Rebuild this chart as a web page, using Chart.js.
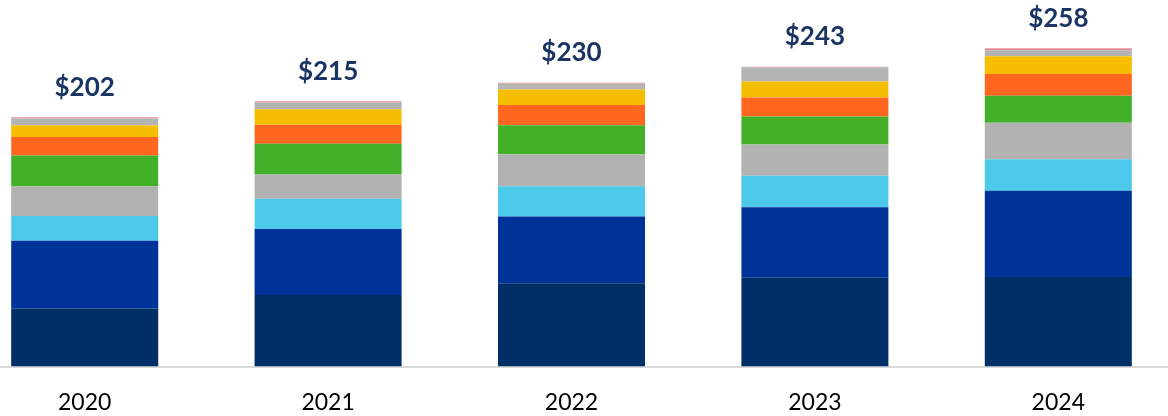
<!DOCTYPE html>
<html>
<head>
<meta charset="utf-8">
<script src="https://cdn.jsdelivr.net/npm/chart.js@4"></script>
<style>
    html, body { margin: 0; padding: 0; background: #fff; overflow: hidden; }
    #wrap { position: absolute; left: -37px; top: 0; width: 1217px; height: 416px; }
</style>
</head>
<body>
<div id="wrap"><canvas id="revenueChart"></canvas></div>
<script>
// Years on the x axis
const years = ['2020', '2021', '2022', '2023', '2024'];

// Stack segments, bottom to top ($)
const navySeg      = [47,   58,   67.5, 72,   72.5];
const blueSeg      = [55,   53.5, 54,   57,   70];
const skySeg       = [20,   24.5, 24.5, 25.5, 25.5];
const graySeg      = [24,   19.5, 26,   25.5, 29.5];
const greenSeg     = [25,   25,   23.5, 22.5, 22];
const orangeSeg    = [15,   15.5, 16.5, 15.5, 17.5];
const yellowSeg    = [9.5,  12.5, 12.5, 13,   14.5];
const lightGraySeg = [5.5,  5.5,  4.7,  11.5, 4.7];
const pinkSeg      = [1,    1,    0.8,  0.5,  1.8];

const segments = [navySeg, blueSeg, skySeg, graySeg, greenSeg, orangeSeg, yellowSeg, lightGraySeg, pinkSeg];
const segColors = ['#002e66', '#003399', '#4dc9ec', '#b1b2b1', '#43b02a', '#ff6720', '#f6be00', '#b3b4b4', '#e48a92'];

// Totals shown above each stack
const totals = years.map((_, i) => segments.reduce((sum, s) => sum + s[i], 0));

// Draw "$xxx" above each bar
const totalLabels = {
    id: 'totalLabels',
    afterDatasetsDraw(chart) {
        const ctx = chart.ctx;
        const topMeta = chart.getDatasetMeta(segments.length - 1);
        ctx.save();
        ctx.font = 'bold 26px Lato';
        ctx.fillStyle = '#1a3463';
        ctx.textAlign = 'center';
        ctx.textBaseline = 'middle';
        topMeta.data.forEach((bar, i) => {
            ctx.fillText('$' + Math.round(totals[i]), bar.x, bar.y - 30);
        });
        ctx.restore();
    }
};

new Chart(document.getElementById('revenueChart'), {
    type: 'bar',
    data: {
        labels: years,
        datasets: segments.map((seg, i) => ({
            data: seg,
            backgroundColor: segColors[i],
            borderWidth: 0,
            barPercentage: 1,
            categoryPercentage: 0.604
        }))
    },
    options: {
        responsive: true,
        maintainAspectRatio: false,
        animation: false,
        layout: { padding: 0 },
        plugins: {
            legend: { display: false },
            tooltip: { enabled: false }
        },
        scales: {
            x: {
                stacked: true,
                grid: { display: false, drawTicks: false },
                border: { display: true, color: '#d9d9d9', width: 2 },
                ticks: {
                    color: '#000',
                    font: { family: 'Lato', size: 23 },
                    padding: 22
                },
                afterFit(scale) { scale.height = 49.5; }
            },
            y: {
                stacked: true,
                display: false,
                min: 0,
                max: 297
            }
        }
    },
    plugins: [totalLabels]
});
</script>
</body>
</html>
